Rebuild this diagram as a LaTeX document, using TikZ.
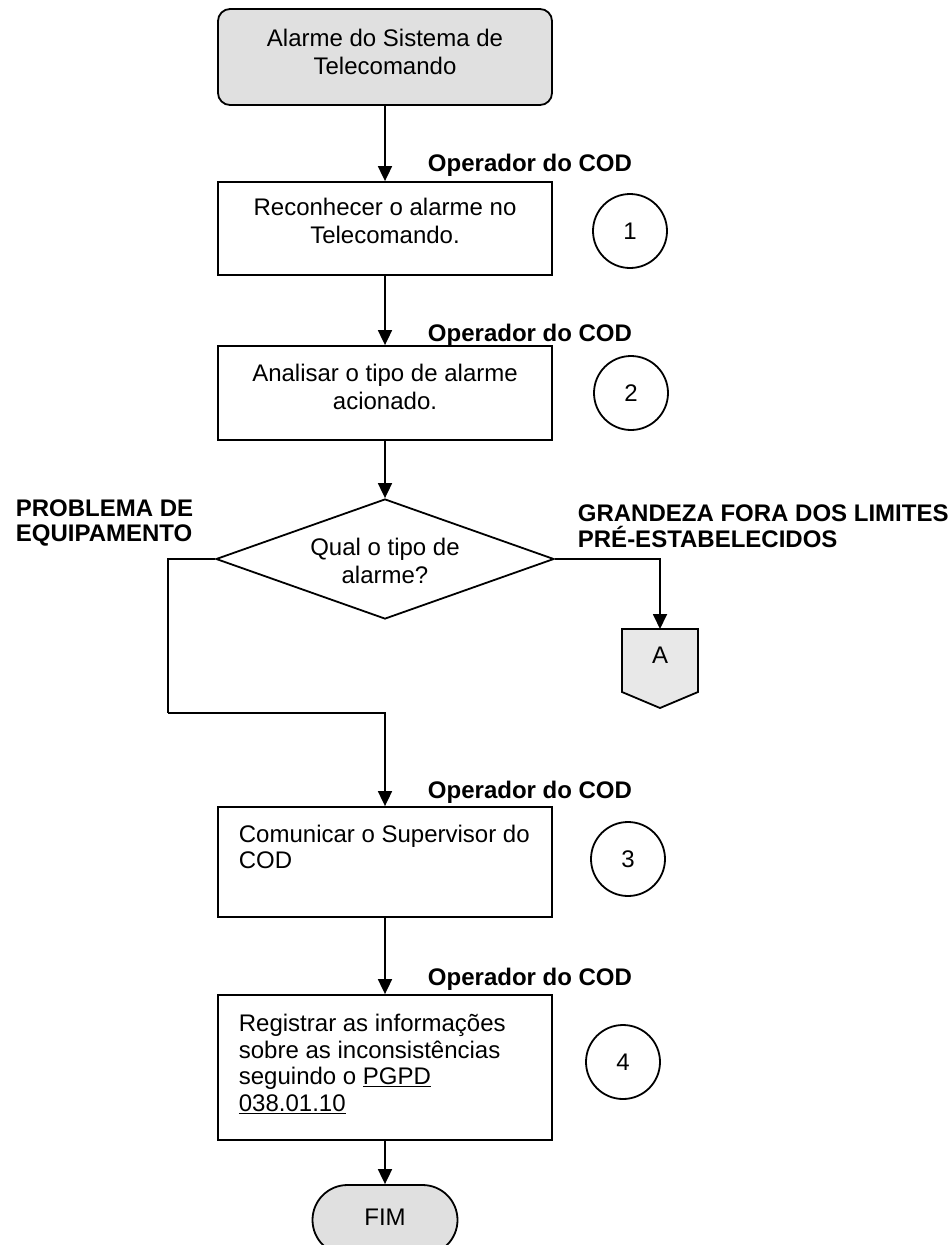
\documentclass[tikz,border=0pt]{standalone}
\usepackage{fontspec}
\setmainfont{Liberation Sans}
\usetikzlibrary{arrows.meta,shapes.geometric,shapes.misc}
\definecolor{boxgray}{RGB}{224,224,224}
\definecolor{agray}{RGB}{232,232,232}
\begin{document}
\begin{tikzpicture}[x=1pt,y=-1pt,
  line width=1.8pt,
  conn/.style={-{Triangle[length=15pt,width=14pt]}},
  procbox/.style={draw, rectangle, minimum width=334pt, inner sep=0pt},
  startbox/.style={draw, rectangle, rounded corners=12pt, fill=boxgray, minimum width=334pt, minimum height=96pt, inner sep=0pt},
  decbox/.style={draw, diamond, minimum width=338pt, minimum height=120pt, inner sep=0pt},
  endbox/.style={draw, rounded rectangle, fill=boxgray, minimum width=145pt, minimum height=70pt, inner sep=0pt},
  numcirc/.style={draw, circle, minimum size=74pt, inner sep=0pt, font=\fontsize{24}{27}\selectfont},
  txt/.style={inner sep=0pt, font=\fontsize{24}{27.5}\selectfont, align=center},
  ltxt/.style={inner sep=0pt, font=\fontsize{24}{26.7}\selectfont, align=left, anchor=west},
  role/.style={inner sep=0pt, font=\fontsize{24}{25}\selectfont\bfseries},
  branch/.style={inner sep=0pt, font=\fontsize{24}{25.5}\selectfont\bfseries, align=left, anchor=west}
]
\clip (0,0) rectangle (952,1245);
\fill[white] (0,0) rectangle (952,1245);

% start
\node[startbox] (s) at (385,57) {};
\node[txt] (st) at (385,52) {Alarme do Sistema de\\Telecomando};

% step 1
\node[role] (r1) at (530,165) {Operador do COD};
\node[procbox, minimum height=93pt] (b1) at (385,228.5) {};
\node[txt] (t1) at (385,221) {Reconhecer o alarme no\\Telecomando.};
\node[numcirc] (c1) at (630,231) {1};

% step 2
\node[role] (r2) at (530,335) {Operador do COD};
\node[procbox, minimum height=94pt] (b2) at (385,393) {};
\node[txt] (t2) at (385,387) {Analisar o tipo de alarme\\acionado.};
\node[numcirc] (c2) at (631,393) {2};

% decision
\node[decbox] (d) at (385,559) {};
\node[txt] (dt) at (385,561) {Qual o tipo de\\alarme?};
\node[branch] (lb) at (15,523) {PROBLEMA DE\\EQUIPAMENTO};
\node[branch] (rb) at (577,526) {GRANDEZA FORA DOS LIMITES\\PRÉ-ESTABELECIDOS};

% off-page connector A
\coordinate (Atop) at (660,629);
\filldraw[fill=agray, line join=miter] (622,629) -- (698,629) -- (698,692) -- (660,708) -- (622,692) -- cycle;
\node[txt] (At) at (660,655) {A};

% step 3
\node[role] (r3) at (530,792) {Operador do COD};
\node[procbox, minimum height=110pt] (b3) at (385,862) {};
\node[ltxt] (t3) at (238,847) {Comunicar o Supervisor do\\COD};
\node[numcirc] (c3) at (628,859) {3};

% step 4
\node[role] (r4) at (530,979) {Operador do COD};
\node[procbox, minimum height=145pt] (b4) at (385,1067.5) {};
\node[ltxt] (t4) at (238,1064) {Registrar as informações\\sobre as inconsistências\\seguindo o \underline{PGPD}\\\underline{038.01.10}};
\node[numcirc] (c4) at (623,1062) {4};

% end
\node[endbox] (fim) at (385,1220) {};
\node[txt] (ft) at (385,1217) {FIM};

% connectors
\coordinate (lc) at (168,713);
\draw[conn] (s.south) -- (b1.north);
\draw[conn] (b1.south) -- (b2.north);
\draw[conn] (b2.south) -- (d.north);
\draw (d.west) -| (lc);
\draw[conn] (lc) -| (b3.north);
\draw[conn] (d.east) -| (Atop);
\draw[conn] (b3.south) -- (b4.north);
\draw[conn] (b4.south) -- (fim.north);
\end{tikzpicture}
\end{document}
